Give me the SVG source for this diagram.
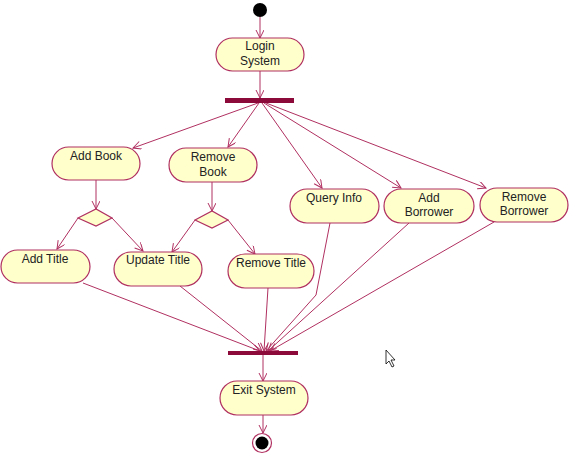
<svg xmlns="http://www.w3.org/2000/svg" width="569" height="456" viewBox="0 0 569 456">
<style>
.n{fill:#ffffcc;stroke:#b03060;stroke-width:1.2}
.t{font-family:"Liberation Sans",Arial,sans-serif;font-size:12px;fill:#222;text-anchor:middle}
.c line,.c polyline{stroke:#b03060;stroke-width:1;fill:none;marker-end:url(#a)}
.bar{fill:#8b0a3a}
</style>
<defs>
<marker id="a" markerWidth="10" markerHeight="10" refX="9" refY="4" orient="auto" markerUnits="userSpaceOnUse">
<path d="M1,0 L9,4 L1,8" fill="none" stroke="#b03060" stroke-width="1"/>
</marker>
</defs>
<rect width="569" height="456" fill="#fff"/>
<g class="c">
<line x1="260" y1="17" x2="260" y2="38"/>
<line x1="260" y1="71" x2="260" y2="98"/>
<line x1="258" y1="103" x2="133" y2="148"/>
<line x1="259" y1="103" x2="228" y2="147"/>
<line x1="262" y1="103" x2="322" y2="188"/>
<line x1="264" y1="103" x2="401" y2="188"/>
<line x1="266" y1="103" x2="486" y2="188"/>
<line x1="96" y1="180" x2="96" y2="209"/>
<line x1="78" y1="218" x2="57" y2="249"/>
<line x1="112" y1="218" x2="143" y2="251"/>
<line x1="212" y1="182" x2="212" y2="211"/>
<line x1="195" y1="220" x2="172" y2="252"/>
<line x1="228" y1="220" x2="255" y2="254"/>
<line x1="83" y1="283" x2="260" y2="351"/>
<line x1="180" y1="286" x2="262" y2="351"/>
<line x1="268" y1="288" x2="264" y2="351"/>
<polyline points="330,223 316,295 266,351"/>
<line x1="409" y1="223" x2="268" y2="351"/>
<line x1="494" y1="222" x2="270" y2="351"/>
<line x1="263" y1="355" x2="263" y2="381"/>
<line x1="263" y1="415" x2="263" y2="433"/>
</g>
<g id="start"><circle cx="260" cy="10" r="7" fill="#000"/></g>
<g id="login"><rect class="n" x="216" y="38" width="88" height="33" rx="16.5"/><text class="t" x="260" y="50">Login</text><text class="t" x="260" y="65">System</text></g>
<g id="fork"><rect class="bar" x="225" y="98" width="69" height="5"/></g>
<g id="addbook"><rect class="n" x="52" y="147" width="88" height="33" rx="16.5"/><text class="t" x="96" y="160">Add Book</text></g>
<g id="removebook"><rect class="n" x="169" y="148" width="88" height="34" rx="17"/><text class="t" x="213" y="161">Remove</text><text class="t" x="213" y="176">Book</text></g>
<g id="query"><rect class="n" x="290" y="189" width="89" height="34" rx="17"/><text class="t" x="334" y="202">Query Info</text></g>
<g id="addborrower"><rect class="n" x="384" y="189" width="90" height="34" rx="17"/><text class="t" x="429" y="202">Add</text><text class="t" x="429" y="216">Borrower</text></g>
<g id="removeborrower"><rect class="n" x="480" y="188" width="88" height="34" rx="17"/><text class="t" x="524" y="201">Remove</text><text class="t" x="524" y="215">Borrower</text></g>
<g id="d1"><polygon class="n" points="78,218 96,209 112,218 96,226"/></g>
<g id="d2"><polygon class="n" points="195,220 212,211 228,220 212,228"/></g>
<g id="addtitle"><rect class="n" x="1" y="250" width="89" height="33" rx="16.5"/><text class="t" x="45" y="263">Add Title</text></g>
<g id="updatetitle"><rect class="n" x="114" y="252" width="88" height="34" rx="17"/><text class="t" x="158" y="264">Update Title</text></g>
<g id="removetitle"><rect class="n" x="228" y="254" width="86" height="34" rx="17"/><text class="t" x="271" y="267">Remove Title</text></g>
<g id="join"><rect class="bar" x="228" y="351" width="70" height="4"/></g>
<g id="exit"><rect class="n" x="220" y="381" width="88" height="34" rx="17"/><text class="t" x="264" y="394">Exit System</text></g>
<g id="end"><circle cx="262" cy="443" r="9.5" fill="#fff" stroke="#b03060" stroke-width="1.2"/><circle cx="262" cy="443" r="6.5" fill="#000"/></g>
<path d="M386,350 L386,364 L389,361 L392,367 L394,366 L391,360 L395,360 Z" fill="#fff" stroke="#000" stroke-width="0.8"/>
</svg>
